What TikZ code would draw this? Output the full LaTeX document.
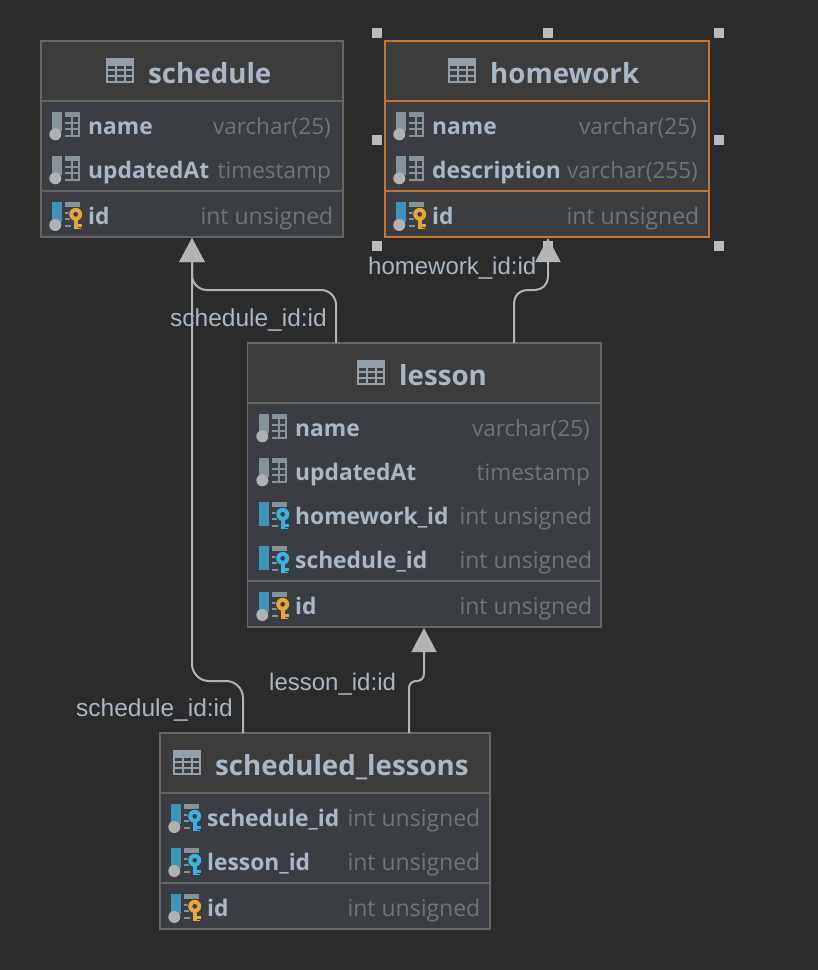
\documentclass[tikz,border=0pt]{standalone}
\usepackage{fontspec}
\setmainfont{Open Sans}
\newfontfamily\labelfont{Liberation Sans}
\usetikzlibrary{arrows.meta}
\definecolor{bgc}{HTML}{2B2B2B}
\definecolor{headc}{HTML}{3C3C3C}
\definecolor{bodyc}{HTML}{3A3E42}
\definecolor{edgec}{HTML}{656565}
\definecolor{selc}{HTML}{C8752D}
\definecolor{namec}{HTML}{A9B7C6}
\definecolor{typec}{HTML}{747474}
\definecolor{linec}{HTML}{B4B4B4}
\definecolor{grayc}{HTML}{87939A}
\definecolor{gridc}{HTML}{93A0AB}
\definecolor{dotc}{HTML}{AFB1B3}
\definecolor{bluec}{HTML}{3D94B8}
\definecolor{goldc}{HTML}{E5A63A}
\definecolor{fkc}{HTML}{3CB1E3}
\tikzset{
  x=1pt,y=-1pt,
  title/.style={font=\fontsize{27.7}{28}\selectfont\bfseries,text=namec,anchor=base west,inner sep=0pt},
  colname/.style={font=\fontsize{22.8}{23}\selectfont\bfseries,text=namec,anchor=base west,inner sep=0pt},
  coltype/.style={font=\fontsize{22.5}{23}\selectfont,text=typec,anchor=base east,inner sep=0pt},
  inttype/.style={coltype,font=\fontsize{23}{24}\selectfont},
  link/.style={draw=linec,line width=2pt,rounded corners=15pt,-{Triangle[width=25pt,length=24pt,fill=linec]}},
  linklabel/.style={font=\labelfont\fontsize{24}{24}\selectfont,text=namec,anchor=base west,inner sep=0pt},
  widelabel/.style={linklabel,font=\labelfont\fontsize{24.5}{24}\selectfont},
  handle/.style={fill=linec!90!white,draw=none,minimum size=10pt,inner sep=0pt},
}
% name, x1,y1,x2,y2, div1, div2, edge colour
\newcommand{\dbtable}[8]{%
  \fill[headc] (#2,#3) rectangle (#4,#6);
  \fill[bodyc] (#2,#6) rectangle (#4,#5);
  \draw[#8,line width=2pt] (#2,#6) -- (#4,#6) (#2,#7) -- (#4,#7);
  \node[draw=#8,line width=1.5pt,fill=none,inner sep=0pt,outer sep=0pt,anchor=north west,minimum width=#4pt-#2pt,minimum height=#5pt-#3pt] (#1) at (#2,#3) {};
}
% grid icon beside a table title
\newcommand{\gridicon}[2]{%
  \begin{scope}[shift={(#1,#2)}]
    \fill[gridc] (0,0) rectangle (28,8);
    \draw[gridc,line width=2pt] (1,1) rectangle (27,23.5)
      (0,12) -- (28,12) (0,18) -- (28,18) (9.5,7) -- (9.5,24) (18.5,7) -- (18.5,24);
  \end{scope}}
% plain column icon
\newcommand{\plainicon}[2]{%
  \begin{scope}[shift={(#1,#2)}]
    \fill[grayc] (0,0) rectangle (10,19);
    \fill[dotc] (3.3,22.3) circle[radius=6pt];
    \fill[grayc] (13,0) rectangle (28,5);
    \draw[grayc,line width=2pt] (27,0) -- (27,24) (13,23.5) -- (28,23.5)
      (13,11) -- (28,11) (13,17) -- (28,17) (20,4) -- (20,24);
  \end{scope}}
% key column icon: #3 key colour, #4 1 = with dot
\newcommand{\keyicon}[4]{%
  \begin{scope}[shift={(#1,#2)}]
    \fill[bluec] (0,0) rectangle (10,20);
    \ifnum#4=1 \fill[dotc] (3.3,23) circle[radius=6pt];\else\fill[bluec] (0,20) rectangle (10,24);\fi
    \fill[grayc] (13,0) rectangle (28,5);
    \draw[grayc,line width=2pt] (13,11) -- (18,11) (13,17) -- (18,17) (13,23.5) -- (19,23.5);
    \fill[bodyc] (23.7,12.3) circle[radius=7.5pt];
    \fill[#3] (22,16) rectangle (26.3,27);
    \fill[#3] (26,22) rectangle (30,24.5);
    \fill[#3] (26,25.5) rectangle (29,27);
    \fill[#3,even odd rule] (23.7,12.3) circle[radius=6.5pt] (23.7,12.3) circle[radius=2.5pt];
  \end{scope}}
\begin{document}
\begin{tikzpicture}
\useasboundingbox (0,0) rectangle (818,970);
\fill[bgc] (0,0) rectangle (818,970);

% tables
\dbtable{schedule}{41}{41}{343}{237}{101}{191}{edgec}
\dbtable{homework}{385}{41}{709}{237}{101}{191}{selc}
\dbtable{lesson}{247.5}{343}{601}{627}{403}{581}{edgec}
\dbtable{sched}{160}{733}{490}{929}{793}{883}{edgec}

% selection handles
\foreach \hx/\hy/\hn in {377/33/a,548/33/b,719/33/c,377/140/d,719/140/e,377/246/f,548/246/g,719/246/h}
  \node[handle] (hd\hn) at (\hx,\hy) {};

% connectors
\coordinate (c1a) at (336,343); \coordinate (c1b) at (192,238);
\coordinate (c2a) at (243,733);
\coordinate (c3a) at (514,343); \coordinate (c3b) at (548,238);
\coordinate (c4a) at (409,733); \coordinate (c4b) at (424,628);
\draw[link] (c1a) -- (336,290) -- (192,290) -- (c1b);
\draw[link,rounded corners=17pt] (c2a) -- (243,681) -- (192,681) -- (c1b);
\draw[link,rounded corners=13pt] (c3a) -- (514,290) -- (548,290) -- (c3b);
\draw[link,rounded corners=7pt] (c4a) -- (409,681) -- (424,681) -- (c4b);

% schedule
\gridicon{106}{58}
\node[title] (t1) at (148,83) {schedule};
\plainicon{52}{112}
\node[colname] (n11) at (88,134) {name};
\node[coltype] (y11) at (331,134) {varchar(25)};
\plainicon{52}{156}
\node[colname] (n12) at (88,178) {updatedAt};
\node[coltype] (y12) at (331,178) {timestamp};
\keyicon{52}{202}{goldc}{1}
\node[colname] (n13) at (88,224) {id};
\node[inttype] (y13) at (333.5,224) {int unsigned};

% homework
\gridicon{448}{58}
\node[title] (t2) at (490,83) {homework};
\plainicon{396}{112}
\node[colname] (n21) at (432,134) {name};
\node[coltype] (y21) at (697,134) {varchar(25)};
\plainicon{396}{156}
\node[colname] (n22) at (432,178) {description};
\node[coltype] (y22) at (698,178) {varchar(255)};
\keyicon{396}{202}{goldc}{1}
\node[colname] (n23) at (432,224) {id};
\node[inttype] (y23) at (699.5,224) {int unsigned};

% lesson
\gridicon{357}{360}
\node[title] (t3) at (399,385) {lesson};
\plainicon{259}{414}
\node[colname] (n31) at (295,436) {name};
\node[coltype] (y31) at (590,436) {varchar(25)};
\plainicon{259}{458}
\node[colname] (n32) at (295,480) {updatedAt};
\node[coltype] (y32) at (590,480) {timestamp};
\keyicon{259}{502}{fkc}{0}
\node[colname] (n33) at (295,524) {homework\_id};
\node[inttype] (y33) at (592.5,524) {int unsigned};
\keyicon{259}{546}{fkc}{0}
\node[colname] (n34) at (295,568) {schedule\_id};
\node[inttype] (y34) at (592.5,568) {int unsigned};
\keyicon{259}{592}{goldc}{1}
\node[colname] (n35) at (295,614) {id};
\node[inttype] (y35) at (592.5,614) {int unsigned};

% scheduled_lessons
\gridicon{173}{750}
\node[title] (t4) at (215,775) {scheduled\_lessons};
\keyicon{171}{804}{fkc}{1}
\node[colname] (n41) at (207,826) {schedule\_id};
\node[inttype] (y41) at (480.5,826) {int unsigned};
\keyicon{171}{848}{fkc}{1}
\node[colname] (n42) at (207,870) {lesson\_id};
\node[inttype] (y42) at (480.5,870) {int unsigned};
\keyicon{171}{894}{goldc}{1}
\node[colname] (n43) at (207,916) {id};
\node[inttype] (y43) at (480.5,916) {int unsigned};

% connector labels
\node[linklabel] (l1) at (368,274) {homework\_id:id};
\node[widelabel] (l2) at (170,326) {schedule\_id:id};
\node[linklabel] (l3) at (269,690) {lesson\_id:id};
\node[widelabel] (l4) at (76,716) {schedule\_id:id};
\end{tikzpicture}
\end{document}
